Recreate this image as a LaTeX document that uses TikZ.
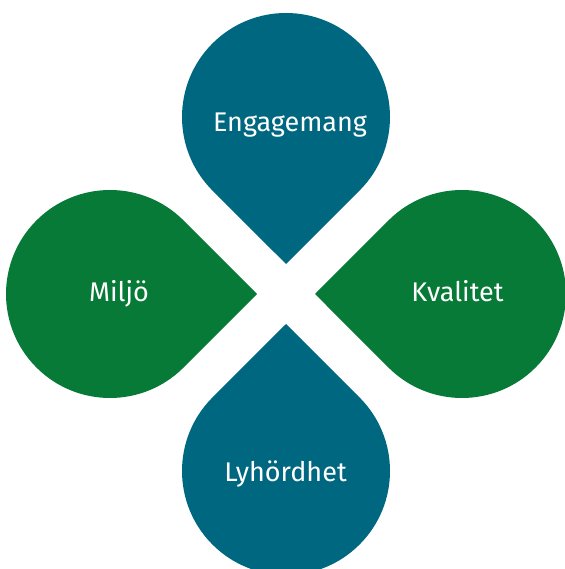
\documentclass[tikz,border=0pt]{standalone}
\usepackage{fontspec}
\setmainfont{Fira Sans}
\definecolor{dropblue}{RGB}{0,103,128}
\definecolor{dropgreen}{RGB}{8,122,56}
\begin{document}
\begin{tikzpicture}[x=1pt,y=1pt,
  droptext/.style={text=white,font=\fontsize{27}{31}\selectfont,anchor=base,inner sep=0pt}]
\useasboundingbox (0,0) rectangle (564,569);
% drops: centre, radius 104, tip at distance 147 toward the middle
\fill[dropblue, shift={(286,452)}, rotate=-90] (0:147) -- (45:104) arc (45:315:104) -- cycle;
\fill[dropblue, shift={(286,98)}, rotate=90] (0:147) -- (45:104) arc (45:315:104) -- cycle;
\fill[dropgreen, shift={(110,275)}, rotate=0] (0:147) -- (45:104) arc (45:315:104) -- cycle;
\fill[dropgreen, shift={(462,275)}, rotate=180] (0:147) -- (45:104) arc (45:315:104) -- cycle;
\node[droptext] (eng) at (290,437) {Engagemang};
\node[droptext] (mil) at (119,267) {Miljö};
\node[droptext] (kva) at (457.5,267) {Kvalitet};
\node[droptext] (lyh) at (285.5,87) {Lyhördhet};
\end{tikzpicture}
\end{document}
